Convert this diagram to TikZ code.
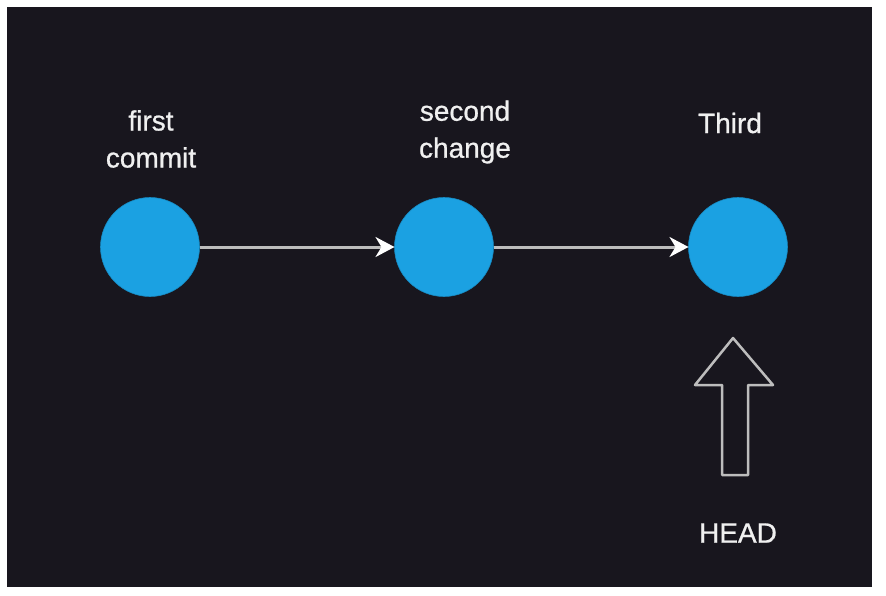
\documentclass[tikz,border=0pt]{standalone}
\usepackage{fontspec}
\setmainfont{Liberation Sans}[FakeBold=0.8]
\usetikzlibrary{positioning,arrows.meta}

\definecolor{bgdark}{HTML}{18161E}
\definecolor{commitblue}{HTML}{1BA1E2}
\definecolor{linegray}{HTML}{BDBDBD}
\definecolor{textwhite}{HTML}{F0F0F0}

\begin{document}
\begin{tikzpicture}[x=1pt,y=-1pt,
	commit/.style={circle,minimum size=99pt,inner sep=0pt,outer sep=0pt,fill=commitblue,draw=commitblue!85!black,line width=.6pt},
	lbl/.style={align=center,text=textwhite,font=\fontsize{28}{37}\selectfont},
	link/.style={-{Stealth[length=19pt,width=20pt,inset=6pt,fill=white,color=white]},draw=linegray,line width=3pt}]
	\useasboundingbox (0,0) rectangle (886,595);
	\fill[white] (0,0) rectangle (886,595);
	\fill[bgdark] (7,7) rectangle (872,587);

	\node [commit] at (150,247) (c1) {};
	\node [commit,right=195pt of c1] (c2) {};
	\node [commit,right=195pt of c2] (c3) {};

	\node [lbl] at (151,139) (c1_lbl) {first\\commit};
	\node [lbl] at (465,132) (c2_lbl) {second\\change};
	\node [lbl] at (730,123) (c3_lbl) {Third};

	\draw[link] (c1.east) -- (c2.west);
	\draw[link] (c2.east) -- (c3.west);

	% head pointer
	\draw[linegray,line width=2.5pt,line join=round] (733,338) -- (773,385) -- (748,385) -- (748,475) -- (722,475) -- (722,385) -- (695,385) -- cycle;
	\node [lbl] at (738,533) (head) {HEAD};
\end{tikzpicture}
\end{document}
